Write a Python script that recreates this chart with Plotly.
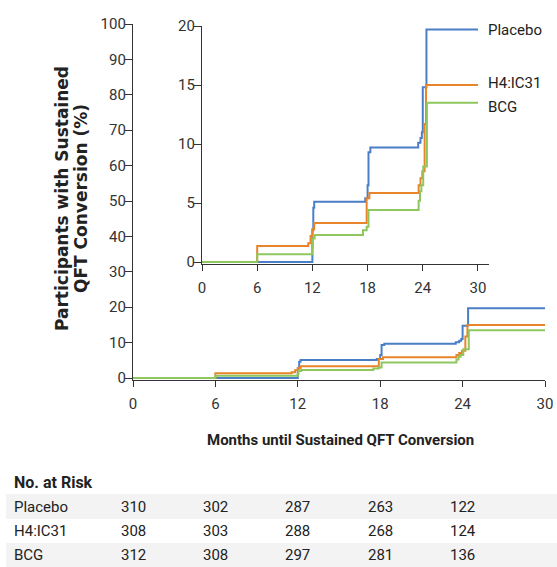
import plotly.graph_objects as go

# ---- data ----
placebo_t = [0, 12.0, 12.1, 12.2, 17.75, 18.0, 18.1, 18.3, 23.5, 23.75, 23.9, 24.0, 24.4, 30]
placebo_v = [0, 2.7, 4.6, 5.1, 5.4, 6.5, 9.3, 9.7, 10.1, 10.5, 11.0, 14.8, 19.7, 19.7]

h4_t = [0, 6.0, 11.55, 11.8, 12.0, 12.2, 17.9, 18.2, 23.55, 23.75, 23.95, 24.2, 24.35, 30]
h4_v = [0, 1.35, 1.6, 2.2, 2.8, 3.3, 5.4, 5.85, 6.5, 7.1, 7.7, 11.7, 15.0, 15.0]

bcg_t = [0, 6.0, 12.0, 12.05, 12.25, 17.5, 17.9, 18.1, 23.55, 23.7, 23.85, 24.05, 24.45, 30]
bcg_v = [0, 0.65, 1.2, 2.0, 2.3, 2.7, 3.0, 4.4, 5.2, 6.0, 6.5, 8.1, 13.5, 13.5]

groups = ["Placebo", "H4:IC31", "BCG"]
risk_months = [0, 6, 12, 18, 24]
risk_placebo = [310, 302, 287, 263, 122]
risk_h4 = [308, 303, 288, 268, 124]
risk_bcg = [312, 308, 297, 281, 136]

main_yticks = list(range(0, 101, 10))
inset_yticks = [0, 5, 10, 15, 20]
xticks = [0, 6, 12, 18, 24, 30]

colors = ["#4A7FC8", "#E8852A", "#8FC65E"]
series = [(placebo_t, placebo_v), (h4_t, h4_v), (bcg_t, bcg_v)]

W, H = 557, 567
def px(x):
    return x / W
def py(y):
    return 1 - y / H

NARROW = "Roboto, Liberation Sans, sans-serif"
def nfont(size, color="#333333", weight="normal"):
    return dict(family=NARROW, size=size, color=color, weight=weight)

AX = "#333333"

fig = go.Figure()
for (t, v), c, name in zip(series, colors, groups):
    fig.add_trace(go.Scatter(x=t, y=v, mode="lines", line=dict(color=c, width=2, shape="hv"),
                             xaxis="x", yaxis="y", showlegend=False, name=name))
for (t, v), c, name in zip(series, colors, groups):
    fig.add_trace(go.Scatter(x=t, y=v, mode="lines", line=dict(color=c, width=2, shape="hv"),
                             xaxis="x2", yaxis="y2", showlegend=False, name=name))

base = dict(showgrid=False, zeroline=False, showline=True, linecolor=AX, linewidth=1.3,
            ticks="outside", tickwidth=1.3, tickcolor=AX, automargin=False,
            tickfont=nfont(15))
xax = dict(base, ticklen=6, ticklabelstandoff=4)
yax = dict(base, ticklen=7, ticklabelstandoff=-4)

fig.update_layout(
    template="none",
    width=W, height=H,
    margin=dict(l=0, r=0, t=0, b=0, pad=0),
    paper_bgcolor="white", plot_bgcolor="rgba(0,0,0,0)",
    xaxis=dict(domain=[px(133), px(545)], range=[0, 30], tickvals=xticks, anchor="y", **xax),
    yaxis=dict(domain=[py(379.8), py(24)], range=[-0.5, 100], tickvals=main_yticks, anchor="x", **yax),
    xaxis2=dict(domain=[px(202), px(489)], range=[0, 31.2], tickvals=xticks, anchor="y2", **xax),
    yaxis2=dict(domain=[py(263.8), py(26)], range=[-0.15, 20], tickvals=inset_yticks, anchor="x2", **yax),
)

annotations = []
# series labels in inset
shifts = [0, 2, -4]
for (t, v), name, s in zip(series, groups, shifts):
    annotations.append(dict(x=30.9, y=v[-1], xref="x2", yref="y2", text=name, showarrow=False,
                            xanchor="left", yanchor="middle", yshift=s, font=nfont(15, "#222222")))

# y-axis title (two lines)
title_font = dict(family="DejaVu Sans, Verdana, sans-serif", size=17, color="#222222")
annotations.append(dict(x=px(62), y=py(199), xref="paper", yref="paper",
                        text="<b>Participants with Sustained</b>",
                        textangle=-90, showarrow=False, xanchor="center", yanchor="middle",
                        font=title_font))
annotations.append(dict(x=px(81), y=py(199), xref="paper", yref="paper",
                        text="<b>QFT Conversion (%)</b>",
                        textangle=-90, showarrow=False, xanchor="center", yanchor="middle",
                        font=title_font))
# x-axis title
annotations.append(dict(x=px(340), y=py(440), xref="paper", yref="paper",
                        text="<b>Months until Sustained QFT Conversion</b>", showarrow=False,
                        xanchor="center", yanchor="middle", font=nfont(15, "#222222")))
# table
annotations.append(dict(x=px(12), y=py(482), xref="paper", yref="paper", text="<b>No. at Risk</b>",
                        showarrow=False, xanchor="left", yanchor="middle", font=nfont(16, "#222222")))
row_y = [507, 531, 555]
for name, vals, ry in zip(groups, [risk_placebo, risk_h4, risk_bcg], row_y):
    annotations.append(dict(x=px(12), y=py(ry), xref="paper", yref="paper", text=name,
                            showarrow=False, xanchor="left", yanchor="middle", font=nfont(15, "#222222")))
    for m, n in zip(risk_months, vals):
        annotations.append(dict(x=m, y=py(ry), xref="x", yref="paper", text=str(n),
                                showarrow=False, xanchor="center", yanchor="middle",
                                font=nfont(15, "#222222")))

shapes = [
    dict(type="rect", xref="paper", yref="paper", x0=px(6), x1=1, y0=py(519), y1=py(494),
         fillcolor="#F3F3F3", line=dict(width=0), layer="below"),
    dict(type="rect", xref="paper", yref="paper", x0=px(6), x1=1, y0=py(567), y1=py(543),
         fillcolor="#F3F3F3", line=dict(width=0), layer="below"),
]
fig.update_layout(annotations=annotations, shapes=shapes)

fig.write_html("out.html", config={"displayModeBar": False},
               post_script="document.body.style.margin='0';document.body.style.overflow='hidden';")
